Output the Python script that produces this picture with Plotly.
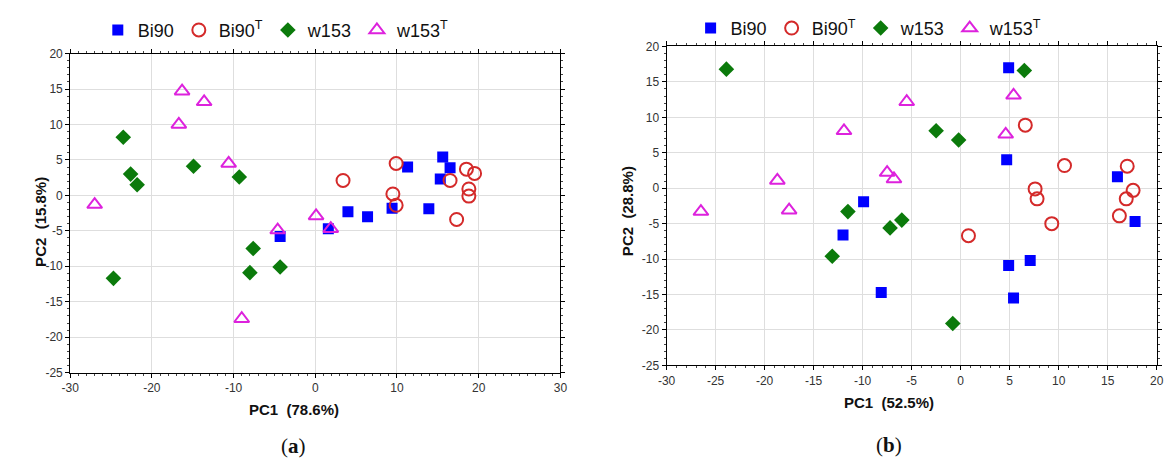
import plotly.graph_objects as go

# ---- Data: panel (a) ----
a_bi90_x = [-4.3, 1.6, 4.0, 6.4, 9.4, 13.9, 11.3, 15.6, 16.5, 15.3]
a_bi90_y = [-5.8, -4.7, -2.3, -3.0, -1.8, -1.9, 4.0, 5.4, 3.9, 2.3]
a_bi90t_x = [3.4, 9.9, 9.5, 9.9, 16.5, 18.5, 19.5, 18.8, 18.8, 17.3]
a_bi90t_y = [2.1, 4.5, 0.2, -1.4, 2.1, 3.7, 3.1, 0.9, -0.1, -3.4]
a_w153_x = [-23.5, -22.6, -21.8, -14.9, -9.3, -24.7, -7.6, -8.0, -4.3]
a_w153_y = [8.2, 3.0, 1.5, 4.1, 2.6, -11.7, -7.5, -10.9, -10.1]
a_w153t_x = [-16.3, -13.6, -16.7, -10.6, -27.0, -4.6, 0.1, 1.9, -9.0]
a_w153t_y = [14.7, 13.2, 10.0, 4.5, -1.3, -4.9, -2.9, -4.7, -17.4]

# ---- Data: panel (b) ----
b_bi90_x = [4.9, 4.7, 16.0, 17.8, -9.9, -12.0, -8.1, 4.9, 7.1, 5.4]
b_bi90_y = [17.0, 4.0, 1.6, -4.7, -1.9, -6.6, -14.7, -10.9, -10.2, -15.5]
b_bi90t_x = [6.6, 10.6, 17.0, 7.6, 7.8, 17.6, 16.9, 16.2, 9.3, 0.8]
b_bi90t_y = [8.9, 3.2, 3.1, -0.1, -1.5, -0.3, -1.5, -3.9, -5.0, -6.7]
b_w153_x = [-23.9, 6.5, -2.5, -0.2, -11.5, -13.1, -7.2, -6.0, -0.8]
b_w153_y = [16.8, 16.6, 8.1, 6.8, -3.3, -9.6, -5.6, -4.5, -19.1]
b_w153t_x = [5.4, -5.5, -11.9, 4.6, -7.5, -6.8, -18.7, -26.5, -17.5]
b_w153t_y = [13.1, 12.2, 8.1, 7.6, 2.2, 1.3, 1.1, -3.3, -3.1]

# ---- Tick labels ----
a_xticks = [-30, -20, -10, 0, 10, 20, 30]
b_xticks = [-30, -25, -20, -15, -10, -5, 0, 5, 10, 15, 20]
y_ticks = [-25, -20, -15, -10, -5, 0, 5, 10, 15, 20]

series_names = ["Bi90", "Bi90<sup>T</sup>", "w153", "w153<sup>T</sup>"]

W, H = 1173, 465

styles = [
    dict(symbol="square", size=11, color="#0000ff"),
    dict(symbol="circle-open", size=13, color="#d42a2a", line=dict(width=2, color="#d42a2a")),
    dict(symbol="diamond", size=12, color="#0b7a0b"),
    dict(symbol="triangle-up-open", size=13, color="#dd22dd", line=dict(width=2, color="#dd22dd")),
]

fig = go.Figure()

panel_a = [(a_bi90_x, a_bi90_y), (a_bi90t_x, a_bi90t_y), (a_w153_x, a_w153_y), (a_w153t_x, a_w153t_y)]
panel_b = [(b_bi90_x, b_bi90_y), (b_bi90t_x, b_bi90t_y), (b_w153_x, b_w153_y), (b_w153t_x, b_w153t_y)]

for i, (xs, ys) in enumerate(panel_a):
    fig.add_trace(go.Scatter(x=xs, y=ys, mode="markers", name=series_names[i],
                             marker=styles[i], xaxis="x", yaxis="y", legend="legend"))
for i, (xs, ys) in enumerate(panel_b):
    fig.add_trace(go.Scatter(x=xs, y=ys, mode="markers", name=series_names[i],
                             marker=styles[i], xaxis="x2", yaxis="y2", legend="legend2"))

def px_x(p):
    return p / W

def px_y(p):
    return 1 - p / H

def tl(vals):
    return [str(v) for v in vals]

axis_common = dict(
    showline=True, linecolor="black", linewidth=1, mirror="allticks",
    ticks="outside", ticklen=4, tickcolor="black",
    showgrid=True, gridcolor="#dedede", gridwidth=1, zeroline=False,
    tickfont=dict(family="Liberation Sans, Arial, sans-serif", size=12, color="#333333"),
    minor=dict(ticks="outside", ticklen=2, tickcolor="#444444", showgrid=False,
               tickmode="linear", tick0=0, dtick=1),
)

legend_font = dict(family="Liberation Sans, Arial, sans-serif", size=18, color="#111111")

fig.update_layout(
    width=W, height=H,
    margin=dict(l=0, r=0, t=0, b=0),
    paper_bgcolor="white", plot_bgcolor="white",
    showlegend=True,
    xaxis=dict(domain=[px_x(62), px_x(559)], range=[-30, 30],
               tickmode="array", tickvals=a_xticks, ticktext=tl(a_xticks),
               anchor="y", **axis_common),
    yaxis=dict(domain=[px_y(377), px_y(48)], range=[-25, 20],
               tickmode="array", tickvals=y_ticks, ticktext=tl(y_ticks),
               anchor="x", **axis_common),
    xaxis2=dict(domain=[px_x(666.7), px_x(1163.5)], range=[-30, 20],
                tickmode="array", tickvals=b_xticks, ticktext=tl(b_xticks),
                anchor="y2", **axis_common),
    yaxis2=dict(domain=[px_y(369.5), px_y(40.7)], range=[-25, 20],
                tickmode="array", tickvals=y_ticks, ticktext=tl(y_ticks),
                anchor="x2", **axis_common),
    legend=dict(orientation="h", x=px_x(271), xanchor="center", y=px_y(24), yanchor="middle",
                font=legend_font, bgcolor="rgba(0,0,0,0)", itemwidth=30, tracegroupgap=0),
    legend2=dict(orientation="h", x=px_x(872), xanchor="center", y=px_y(22), yanchor="middle",
                 font=legend_font, bgcolor="rgba(0,0,0,0)", itemwidth=30, tracegroupgap=0),
)

title_font = dict(family="Liberation Sans, Arial, sans-serif", size=15, color="#111111")
label_font = dict(family="Liberation Serif, DejaVu Serif, serif", size=21, color="#111111")

annotations = [
    dict(text="<b>PC1  (78.6%)</b>", x=px_x(289), y=px_y(415), xref="paper", yref="paper",
         showarrow=False, font=title_font, xanchor="center", yanchor="middle"),
    dict(text="<b>PC2  (15.8%)</b>", x=px_x(32), y=px_y(222), xref="paper", yref="paper",
         showarrow=False, font=title_font, textangle=-90, xanchor="center", yanchor="middle"),
    dict(text="<b>PC1  (52.5%)</b>", x=px_x(892), y=px_y(408), xref="paper", yref="paper",
         showarrow=False, font=title_font, xanchor="center", yanchor="middle"),
    dict(text="<b>PC2  (28.8%)</b>", x=px_x(627), y=px_y(210), xref="paper", yref="paper",
         showarrow=False, font=title_font, textangle=-90, xanchor="center", yanchor="middle"),
    dict(text="(<b>a</b>)", x=px_x(288), y=px_y(453), xref="paper", yref="paper",
         showarrow=False, font=label_font, xanchor="center", yanchor="middle"),
    dict(text="(<b>b</b>)", x=px_x(892), y=px_y(452), xref="paper", yref="paper",
         showarrow=False, font=label_font, xanchor="center", yanchor="middle"),
]
fig.update_layout(annotations=annotations)

fig.write_html("out.html")
